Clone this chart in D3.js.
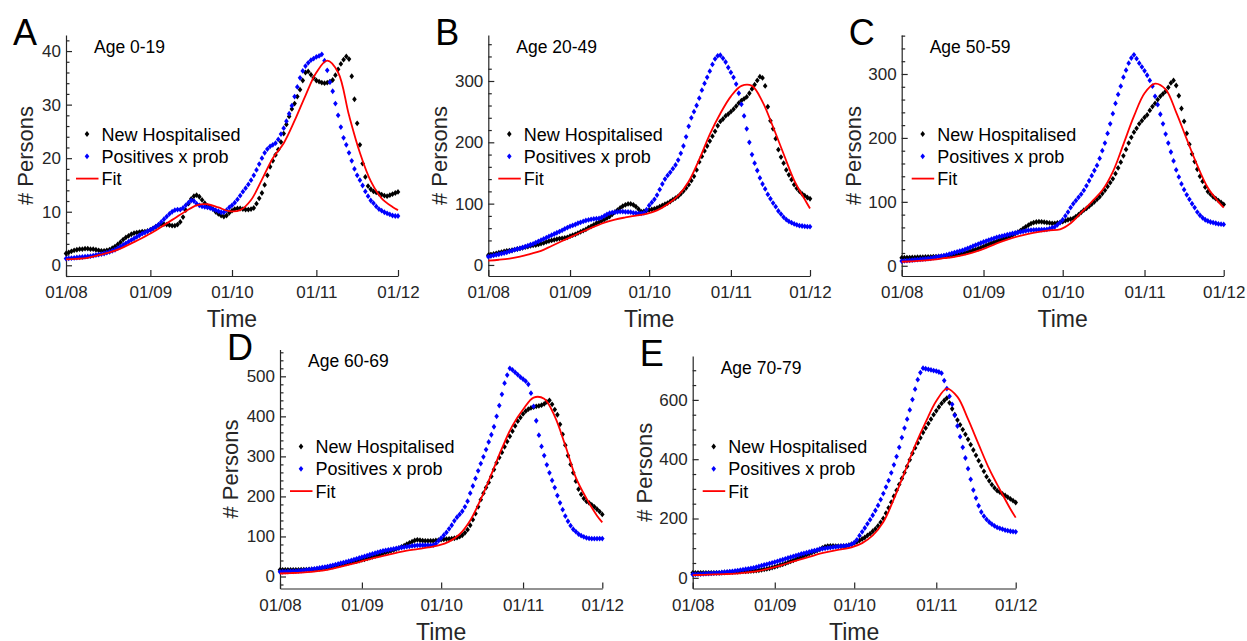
<!DOCTYPE html>
<html>
<head>
<meta charset="utf-8">
<style>
  body {
    margin: 0;
    background-color: #ffffff;
  }

  svg text {
    font-family: "Liberation Sans", Arial, Helvetica, sans-serif;
  }

  .tick text {
    fill: #262626;
  }

  .domain, .tick line {
    stroke: #262626;
    stroke-width: 1.2;
  }
</style>
  <script src="https://d3js.org/d3.v7.min.js"></script>
</head>
<body>
<script>
  // days are counted from 01/08/2020, one value per day up to 01/12/2020
  const monthTicks = ['2020-08-01', '2020-09-01', '2020-10-01', '2020-11-01', '2020-12-01'];
  const fitDays = [0, 4, 8, 12, 16, 20, 24, 28, 32, 36, 40, 44, 48, 52, 56, 60,
    64, 68, 72, 76, 80, 84, 88, 92, 96, 100, 104, 108, 112, 116, 120, 122];

  const legendLabels = ['New Hospitalised', 'Positives x prob', 'Fit'];

  // Age 0-19
  const hospA = [
    2.2, 2.4, 2.6, 2.8, 2.9, 3.0, 3.0, 3.1, 3.1, 3.0,
    3.0, 2.9, 2.8, 2.7, 2.7, 2.8, 2.9, 3.2, 3.5, 3.9,
    4.3, 4.8, 5.2, 5.5, 5.8, 6.0, 6.1, 6.2, 6.3, 6.3,
    6.4, 6.6, 6.9, 7.2, 7.5, 7.7, 7.7, 7.6, 7.5, 7.4,
    7.4, 7.6, 8.1, 9.0, 10.3, 11.5, 12.4, 12.9, 13.1, 12.8,
    12.2, 11.6, 11.1, 10.8, 10.5, 10.0, 9.6, 9.3, 9.1, 9.3,
    9.8, 10.2, 10.5, 10.6, 10.6, 10.5, 10.4, 10.4, 10.5, 10.7,
    11.5, 12.5, 13.5, 15.0, 16.8, 18.4, 19.5, 20.6, 21.6, 23.0,
    24.6, 26.3, 27.8, 29.2, 30.2, 31.5, 32.8, 34.5, 36.0, 36.2,
    35.6, 35.0, 34.5, 34.3, 34.1, 34.0, 34.1, 34.3, 34.6, 35.5,
    36.6, 37.6, 38.4, 39.0, 38.5, 35.3, 31.0, 26.5, 22.5, 19.0,
    16.5, 14.8, 14.2, 13.8, 13.6, 13.4, 13.2, 13.0, 12.9, 13.1,
    13.3, 13.5, 13.7
  ];
  const posA = [
    1.25, 1.3, 1.35, 1.4, 1.45, 1.5, 1.55, 1.6, 1.65, 1.7,
    1.8, 1.9, 2.0, 2.1, 2.2, 2.35, 2.5, 2.7, 2.9, 3.2,
    3.5, 3.8, 4.1, 4.4, 4.7, 5.0, 5.3, 5.6, 5.9, 6.1,
    6.35, 6.6, 6.9, 7.2, 7.6, 8.1, 8.6, 9.1, 9.6, 10.0,
    10.3, 10.4, 10.4, 10.7, 11.2, 11.7, 12.1, 12.0, 11.5, 11.2,
    11.0, 10.9, 10.8, 10.7, 10.5, 10.3, 10.1, 9.9, 9.9, 10.3,
    10.8, 11.2, 11.7, 12.3, 13.0, 13.75, 14.4, 15.1, 15.9, 16.8,
    17.8, 18.9, 20.0, 21.0, 21.7, 22.2, 22.5, 22.8, 23.5, 24.5,
    25.6, 26.9, 28.3, 29.8, 31.5, 33.3, 35.0, 36.3, 37.2, 37.8,
    38.3, 38.6, 38.9, 39.1, 39.4, 38.2, 36.4, 34.2, 32.5, 30.2,
    28.0, 25.8, 23.8, 22.5, 21.0, 19.5, 18.0, 16.8, 15.9, 14.9,
    13.8, 12.9, 12.1, 11.6, 11.0, 10.5, 10.2, 9.9, 9.7, 9.5,
    9.3, 9.2, 9.2
  ];
  const fitA = [1.1, 1.2, 1.4, 1.9, 2.4, 3.1, 4.1, 5.1, 6.2, 7.5, 8.8, 10.1, 11.2, 11.4, 10.8, 10.1,
    10.3, 12.2, 16.0, 20.0, 22.8, 27.0, 31.7, 36.0, 38.2, 36.0, 28.0, 21.0, 15.7, 12.5, 10.9, 10.3];

  // Age 20-49
  const hospB = [
    16, 17, 18, 19, 20, 21, 22, 23, 23.5, 24,
    25, 26, 27, 28, 29, 30, 31, 32, 32.5, 33.5,
    35, 36, 37.5, 39, 40, 41, 42, 43, 43.5, 44,
    45, 47, 48.5, 50, 52, 54, 56, 58, 61, 63,
    65.5, 68, 70, 72, 74, 76.5, 79, 82.5, 86, 89.5,
    93, 96, 98, 99.5, 99.5, 98, 95, 91, 87, 87.5,
    88.5, 89.5, 90.5, 91.5, 93, 95, 97, 99, 101, 103.5,
    106.5, 109, 112, 116, 120.5, 125.5, 131, 137.5, 144.5, 155,
    168, 177, 186, 194, 202, 210, 218, 227, 234, 238,
    243, 246, 250, 254, 259, 264, 268, 271, 274, 280,
    287, 294, 301, 307, 305, 292, 258, 235, 222, 206,
    188, 176, 166, 155, 147, 139, 131, 125, 120, 116,
    113, 110, 108
  ];
  const posB = [
    13.5, 14.5, 15.5, 16.5, 17.5, 18.5, 19.5, 20.5, 22, 23.5,
    25, 26, 27, 28.5, 30, 31.5, 33, 34.5, 36.5, 38.5,
    40.5, 42.5, 44.5, 46.5, 48.5, 50.5, 52.5, 54.5, 56.5, 59,
    61, 63, 64.5, 66, 68, 69.5, 71, 72.5, 73.5, 74.5,
    75, 75.5, 76, 77.5, 80, 82.5, 84.5, 85.5, 86, 86.5,
    87, 87, 86.5, 86.5, 86, 85, 84.5, 84, 84, 85,
    90, 97, 102, 107, 114, 123, 132, 140, 146, 151,
    157, 163, 171, 182, 194, 209, 226, 240, 250, 260,
    272, 285, 296, 306, 316, 327, 336, 341, 342, 337,
    331, 322, 314, 306, 295, 280, 262, 243, 222, 200,
    180, 166, 154, 142, 132, 124, 115, 108, 101, 95,
    88, 83, 78, 74, 71, 69, 67, 65.5, 64, 63.5,
    63, 62.5, 62.5
  ];
  const fitB = [7, 8.5, 10.5, 13.6, 18, 23, 31, 39, 47, 55, 62, 69, 74, 77.5, 80.5, 83.5,
    89, 99, 113, 136, 172, 213, 247, 275, 292, 292, 266, 225, 181, 138, 107, 92];

  // Age 50-59
  const hospC = [
    12.5, 12.6, 12.8, 12.9, 13, 13.1, 13.3, 13.4, 13.5, 13.7,
    13.9, 14, 14.2, 14.4, 14.6, 14.8, 15, 15.5, 16, 16.7,
    17.4, 18.1, 18.8, 19.6, 20.6, 21.8, 23, 24.3, 25.6, 26.8,
    28.5, 30.2, 32, 33.8, 35.6, 37, 38.5, 40, 41.5, 43,
    44.5, 46, 48, 50.5, 52.5, 55, 58, 61, 63.5, 66,
    67.5, 68.5, 69, 68.7, 68.2, 67.6, 67, 66.4, 66.4, 67,
    67.8, 69, 70.5, 72, 73, 74, 77, 80, 83.5, 87,
    89.7, 93, 96.5, 100, 104, 108, 113, 118, 124, 130,
    136, 144, 153, 162, 172, 182, 192, 201, 209, 215,
    222, 227, 232, 236, 243, 249, 254, 260, 265, 269,
    273, 279, 286, 290, 282, 266, 246, 226, 207, 190,
    175, 163, 151, 140, 132, 123, 116, 112, 108, 105,
    102, 99, 96
  ];
  const posC = [
    7.3, 7.7, 8.1, 8.5, 8.9, 9.3, 9.7, 10.1, 10.5, 10.9,
    11.2, 11.8, 12.6, 13.4, 14.2, 15, 16, 17, 18.2, 19.4,
    20.6, 21.8, 23, 24, 25.5, 27.2, 28.9, 30.6, 32.3, 34,
    35.6, 37.2, 38.7, 40.2, 41.6, 43, 44.5, 45.5, 46.5, 47.5,
    48.5, 49.5, 50.5, 51.3, 52.2, 53, 53.8, 54.6, 55.4, 55.8,
    56, 56.2, 56.4, 56.5, 56.7, 57, 58, 59.5, 61, 64,
    67.5, 72, 78, 84, 91, 97, 102, 107, 112, 118,
    125, 133, 141, 149, 157, 168, 180, 192, 207, 222,
    238, 254, 268, 281, 295, 306, 317, 325, 330, 324,
    317, 311, 305, 298, 290, 281, 265, 252, 237, 222,
    206, 192, 178, 164, 150, 139, 128, 119, 111, 104,
    97, 91, 84, 79, 75, 72, 70, 68.5, 67.5, 66.5,
    65.5, 65, 64.7
  ];
  const fitC = [6.3, 7, 8, 9.5, 11.8, 14, 17.5, 22, 28, 35, 41, 46, 50, 53, 55.3, 57,
    66.5, 83, 100, 118, 147, 190, 234, 270, 285, 276, 240, 198, 157, 122, 100, 91];

  // Age 60-69
  const hospD = [
    16.6, 16.6, 16.6, 16.6, 16.6, 16.6, 16.6, 16.6, 16.8, 17,
    17.2, 17.4, 17.7, 18, 18.5, 19.3, 20.3, 21.3, 22.3, 23.5,
    25, 26.5, 28, 29.5, 31, 32.5, 34, 35.5, 37, 38.5,
    40, 41.5, 43, 45, 47, 49, 51, 53, 55, 57.5,
    60, 62, 64, 66, 68.5, 71, 74, 77, 80.5, 84,
    87, 90, 91.5, 90.5, 89.5, 89, 89, 89, 89, 90,
    91, 92, 93, 93.5, 94, 94.5, 95.5, 97, 99.5, 103,
    109, 117, 128, 142, 157, 174, 192, 208, 222, 235,
    250, 267, 284, 297, 310, 324, 337, 350, 363, 376,
    388, 397, 406, 413, 418, 421, 423, 425, 426, 428,
    431, 436, 440, 430, 417, 404, 380, 355, 328, 302,
    280, 259, 238, 218, 205, 195, 188, 184, 179, 174,
    168, 162, 155
  ];
  const posD = [
    11.6, 11.9, 12.2, 12.5, 12.8, 13.1, 13.4, 13.8, 14.5, 15.5,
    16.4, 17.3, 18.2, 19.1, 20, 21.2, 22.4, 23.6, 24.8, 26.2,
    27.8, 29.5, 31.3, 33.1, 34.8, 36.5, 38.3, 40.2, 42.2, 44.2,
    46.2, 48.2, 50.2, 52.3, 54.3, 56.3, 58.3, 60.3, 62.3, 64,
    65.3, 66.5, 67.7, 68.9, 70.1, 71.3, 72.4, 73.4, 74.4, 75.4,
    76.3, 77.1, 77.8, 78, 78, 78, 78, 78, 78.5, 82,
    89, 96, 103, 110, 119, 128, 139, 148, 155, 163,
    174, 188, 208, 226, 245, 264, 282, 299, 317, 336,
    354, 374, 400, 427, 455, 483, 503, 520, 516, 510,
    504, 498, 493, 488, 480, 458, 425, 389, 353, 325,
    302, 279, 259, 240, 222, 202, 184, 167, 151, 138,
    127, 118, 112, 106, 102, 99, 96.5, 95, 94.5, 94.5,
    94.5, 94.7, 94.7
  ];
  const fitD = [7.5, 8.5, 9.7, 11.5, 14.5, 19.5, 26, 32.5, 40, 47, 53, 59, 64.5, 68.5, 72.5, 77.5,
    87, 105.5, 140, 193, 255, 320, 377, 417, 447, 444, 400, 327, 247, 195, 152, 135];

  // Age 70-79
  const hospE = [
    17, 17, 17, 17, 17, 17, 17, 17, 17, 17,
    17, 17.5, 18, 18.5, 19, 19.5, 20, 20.5, 21, 21.5,
    22, 22.5, 23, 23.6, 24.5, 25.5, 27, 28.5, 30, 32,
    34.5, 37, 39.5, 42.5, 45.5, 48.4, 52, 55.5, 59, 63,
    67, 71, 74.5, 78, 81.5, 85, 88.5, 92, 96, 101,
    105, 107, 107.5, 107.5, 107, 107, 107, 107, 107, 110,
    113.5, 117, 121, 126, 131, 136, 143, 149, 157, 165,
    175, 187, 200, 218, 236, 255, 275, 295, 315, 335,
    355, 376, 398, 420, 438, 455, 472, 490, 505, 520,
    535, 550, 563, 576, 588, 598, 606, 590, 570, 550,
    532, 516, 500, 484, 467, 449, 431, 413, 395, 377,
    359, 341, 327, 314, 303, 294, 289, 283, 278, 272,
    266, 260, 254
  ];
  const posE = [
    11.3, 11.8, 12.3, 12.8, 13.4, 14, 14.6, 15.2, 15.8, 16.4,
    17, 18, 19, 20, 21, 22, 23, 24.5, 26, 27.5,
    29, 30.5, 32, 33.8, 36, 38.4, 40.8, 43.2, 45.6, 48,
    50.6, 53.2, 55.8, 58.4, 61, 64, 66.8, 69.5, 72.2, 75,
    77.7, 80.3, 82.5, 84.8, 87.2, 89.6, 92, 94.2, 96.5, 98,
    99.5, 100.8, 102, 103.3, 104.5, 105.5, 106.5, 107.5, 108.5, 109.5,
    113, 119, 128, 142, 155, 168, 182, 196, 211, 227,
    244, 264, 284, 306, 328, 354, 381, 409, 440, 473,
    505, 535, 566, 601, 636, 668, 692, 707, 705, 703,
    701, 699, 697, 694, 690, 665, 638, 612, 585, 548,
    512, 476, 440, 404, 368, 332, 296, 269, 243, 222,
    208, 197, 188, 181, 175, 170, 167, 164, 161, 159,
    157, 156, 155
  ];
  const fitE = [9, 10, 11.3, 12.5, 14, 17.5, 22, 29, 38.5, 50, 60.5, 70.5, 81.5, 89.5, 96, 103,
    117, 143, 188, 266, 355, 446, 525, 596, 638, 610, 535, 450, 367, 298, 232, 203];

  const colors = {
    hosp: '#000000',
    pos: '#0000ff',
    fit: '#ff0000',
    axis: '#262626',
  };

  const panels = [
    { letter: 'A', age: 'Age 0-19', hosp: hospA, pos: posA, fit: fitA,
      left: 66, right: 398, top: 35, bottom: 276, yDomain: [-2, 43], major: 10, minor: 2, labelGap: 33 },
    { letter: 'B', age: 'Age 20-49', hosp: hospB, pos: posB, fit: fitB,
      left: 488.3, right: 810, top: 35, bottom: 276, yDomain: [-18, 375], major: 100, minor: 20, labelGap: 41 },
    { letter: 'C', age: 'Age 50-59', hosp: hospC, pos: posC, fit: fitC,
      left: 901.7, right: 1223.7, top: 35, bottom: 276, yDomain: [-16, 361], major: 100, minor: 20, labelGap: 41 },
    { letter: 'D', age: 'Age 60-69', hosp: hospD, pos: posD, fit: fitD,
      left: 280, right: 602.3, top: 349.5, bottom: 588.5, yDomain: [-30, 567], major: 100, minor: 20, labelGap: 42 },
    { letter: 'E', age: 'Age 70-79', hosp: hospE, pos: posE, fit: fitE,
      left: 692.7, right: 1015.7, top: 356, bottom: 588.5, yDomain: [-36, 748], major: 200, minor: 50, labelGap: 41 },
  ];

  const svg = d3.select('body')
    .append('svg')
    .attr('width', 1247)
    .attr('height', 641);

  const startDate = new Date(2020, 7, 1);
  const endDate = new Date(2020, 11, 1);
  const dayToDate = (i) => d3.timeDay.offset(startDate, i);
  const tickDates = monthTicks.map((s) => d3.timeParse('%Y-%m-%d')(s));

  const diamond = (w, h) => `M0,${-h}L${w},0L0,${h}L${-w},0Z`;

  const drawPanel = (p) => {
    const g = svg.append('g');

    const x = d3.scaleTime()
      .domain([startDate, endDate])
      .range([p.left, p.right]);

    const y = d3.scaleLinear()
      .domain(p.yDomain)
      .range([p.bottom, p.top]);

    // minor y ticks
    const minorValues = d3.range(Math.ceil(p.yDomain[0] / p.minor) * p.minor, p.yDomain[1] + 0.001, p.minor)
      .filter((v) => Math.abs(v % p.major) > 1e-6);
    g.append('g')
      .attr('transform', `translate(${p.left},0)`)
      .call(d3.axisLeft(y).tickValues(minorValues).tickSize(-3.5).tickSizeOuter(0).tickFormat(''))
      .call((a) => a.select('.domain').remove());

    // major y ticks
    const majorValues = d3.range(0, p.yDomain[1] + 0.001, p.major);
    g.append('g')
      .attr('transform', `translate(${p.left},0)`)
      .call(d3.axisLeft(y).tickValues(majorValues).tickSize(-6).tickSizeOuter(0).tickPadding(5).tickFormat(d3.format('d')))
      .call((a) => a.selectAll('.tick text').style('font-size', '17px'));

    // x axis
    g.append('g')
      .attr('transform', `translate(0,${p.bottom})`)
      .call(d3.axisBottom(x).tickValues(tickDates).tickSize(-6).tickSizeOuter(0).tickPadding(10).tickFormat(d3.timeFormat('%d/%m')))
      .call((a) => a.selectAll('.tick text').style('font-size', '17px'));

    // data
    g.append('g')
      .selectAll('path')
      .data(p.hosp)
      .join('path')
      .attr('d', diamond(2.3, 2.9))
      .attr('transform', (d, i) => `translate(${x(dayToDate(i))},${y(d)})`)
      .attr('fill', colors.hosp);

    g.append('g')
      .selectAll('path')
      .data(p.pos)
      .join('path')
      .attr('d', diamond(2.3, 2.9))
      .attr('transform', (d, i) => `translate(${x(dayToDate(i))},${y(d)})`)
      .attr('fill', colors.pos);

    const line = d3.line()
      .x((d, i) => x(dayToDate(fitDays[i])))
      .y((d) => y(d))
      .curve(d3.curveCatmullRom.alpha(0.5));

    g.append('path')
      .datum(p.fit)
      .attr('d', line)
      .attr('fill', 'none')
      .attr('stroke', colors.fit)
      .attr('stroke-width', 1.8);

    // labels
    g.append('text')
      .attr('x', p.left - 53)
      .attr('y', p.top + 10)
      .attr('font-size', 36)
      .attr('fill', '#000')
      .text(p.letter);

    g.append('text')
      .attr('x', p.left + 28)
      .attr('y', p.top + 17.5)
      .attr('font-size', 17.5)
      .attr('fill', '#000')
      .text(p.age);

    g.append('text')
      .attr('transform', `translate(${p.left - p.labelGap},${(p.top + p.bottom) / 2}) rotate(-90)`)
      .attr('text-anchor', 'middle')
      .attr('font-size', 22)
      .attr('fill', colors.axis)
      .text('# Persons');

    g.append('text')
      .attr('x', (p.left + p.right) / 2)
      .attr('y', p.bottom + 51)
      .attr('text-anchor', 'middle')
      .attr('font-size', 23)
      .attr('fill', colors.axis)
      .text('Time');

    // legend
    const ly = p.bottom - 142;
    const legend = g.append('g');
    const legendColors = [colors.hosp, colors.pos, colors.fit];
    legendLabels.forEach((label, i) => {
      const cy = ly + i * 22.3;
      if (i < 2) {
        legend.append('path')
          .attr('d', diamond(2.3, 2.9))
          .attr('transform', `translate(${p.left + 21},${cy})`)
          .attr('fill', legendColors[i]);
      } else {
        legend.append('line')
          .attr('x1', p.left + 10)
          .attr('x2', p.left + 32.5)
          .attr('y1', cy)
          .attr('y2', cy)
          .attr('stroke', colors.fit)
          .attr('stroke-width', 1.8);
      }
      legend.append('text')
        .attr('x', p.left + 35.5)
        .attr('y', cy + 6.5)
        .attr('font-size', 18)
        .attr('fill', '#000')
        .text(label);
    });
  };

  panels.forEach(drawPanel);
</script>
</body>
</html>
